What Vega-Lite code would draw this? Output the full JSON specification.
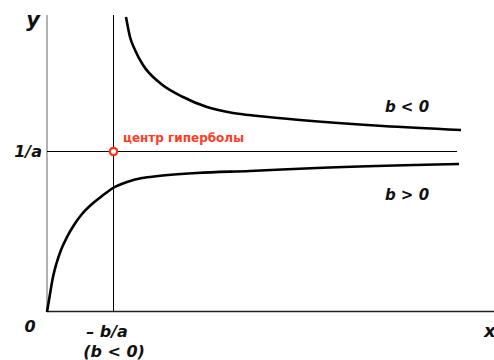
{
  "$schema": "https://vega.github.io/schema/vega-lite/v6.json",
  "width": 447,
  "height": 297,
  "autosize": "none",
  "padding": {"left": 47, "top": 15, "right": 0, "bottom": 48},
  "background": "white",
  "config": {"view": {"stroke": null}},
  "datasets": {
    "curves": [
      {"series": "b<0", "x": 79, "y": 295},
      {"series": "b<0", "x": 83, "y": 275},
      {"series": "b<0", "x": 88, "y": 262},
      {"series": "b<0", "x": 96, "y": 247},
      {"series": "b<0", "x": 113, "y": 229},
      {"series": "b<0", "x": 136, "y": 215},
      {"series": "b<0", "x": 160, "y": 205},
      {"series": "b<0", "x": 186, "y": 199},
      {"series": "b<0", "x": 211, "y": 196},
      {"series": "b<0", "x": 253, "y": 192},
      {"series": "b<0", "x": 336, "y": 186},
      {"series": "b<0", "x": 414, "y": 182},
      {"series": "b>0", "x": 0, "y": 0},
      {"series": "b>0", "x": 3, "y": 18},
      {"series": "b>0", "x": 6, "y": 35},
      {"series": "b>0", "x": 9, "y": 47},
      {"series": "b>0", "x": 14, "y": 62},
      {"series": "b>0", "x": 20, "y": 75},
      {"series": "b>0", "x": 27, "y": 87},
      {"series": "b>0", "x": 35, "y": 98},
      {"series": "b>0", "x": 45, "y": 108},
      {"series": "b>0", "x": 55, "y": 116},
      {"series": "b>0", "x": 66, "y": 124},
      {"series": "b>0", "x": 80, "y": 130},
      {"series": "b>0", "x": 95, "y": 134},
      {"series": "b>0", "x": 111, "y": 136},
      {"series": "b>0", "x": 150, "y": 139},
      {"series": "b>0", "x": 203, "y": 141},
      {"series": "b>0", "x": 270, "y": 144},
      {"series": "b>0", "x": 412, "y": 148}
    ]
  },
  "layer": [
    {
      "data": {"values": [{"x": 0, "y": 0, "y2": 297}]},
      "mark": {"type": "rule", "color": "#999999", "strokeWidth": 1.5},
      "encoding": {
        "x": {"field": "x", "type": "quantitative", "scale": {"domain": [0, 447], "nice": false, "zero": false}, "axis": null},
        "y": {"field": "y", "type": "quantitative", "scale": {"domain": [0, 297], "nice": false, "zero": false}, "axis": null},
        "y2": {"field": "y2"}
      }
    },
    {
      "data": {"values": [{"x": 0, "x2": 447, "y": 0.5}]},
      "mark": {"type": "rule", "color": "#222222", "strokeWidth": 1.5},
      "encoding": {
        "x": {"field": "x", "type": "quantitative"},
        "x2": {"field": "x2"},
        "y": {"field": "y", "type": "quantitative"}
      }
    },
    {
      "data": {"values": [{"x": 66.5, "y": 0, "y2": 297}]},
      "mark": {"type": "rule", "color": "#000000", "strokeWidth": 1},
      "encoding": {
        "x": {"field": "x", "type": "quantitative"},
        "y": {"field": "y", "type": "quantitative"},
        "y2": {"field": "y2"}
      }
    },
    {
      "data": {"values": [{"x": 0, "x2": 410, "y": 160.5}]},
      "mark": {"type": "rule", "color": "#000000", "strokeWidth": 1},
      "encoding": {
        "x": {"field": "x", "type": "quantitative"},
        "x2": {"field": "x2"},
        "y": {"field": "y", "type": "quantitative"}
      }
    },
    {
      "data": {"name": "curves"},
      "mark": {"type": "line", "color": "#000000", "strokeWidth": 2.6, "interpolate": "monotone"},
      "encoding": {
        "x": {"field": "x", "type": "quantitative"},
        "y": {"field": "y", "type": "quantitative"},
        "detail": {"field": "series"}
      }
    },
    {
      "data": {"values": [{"x": 66.5, "y": 160.5}]},
      "mark": {"type": "point", "shape": "circle", "size": 55, "filled": false, "fill": "white", "fillOpacity": 1, "stroke": "#ff3311", "strokeWidth": 2.2, "opacity": 1},
      "encoding": {
        "x": {"field": "x", "type": "quantitative"},
        "y": {"field": "y", "type": "quantitative"}
      }
    },
    {
      "data": {"values": [{"label": "центр гиперболы", "x": 76, "y": 170}]},
      "mark": {"type": "text", "align": "left", "baseline": "alphabetic", "font": "DejaVu Sans", "fontSize": 12, "fontWeight": "bold", "color": "#ff3b1f"},
      "encoding": {
        "x": {"field": "x", "type": "quantitative"},
        "y": {"field": "y", "type": "quantitative"},
        "text": {"field": "label"}
      }
    },
    {
      "data": {"values": [{"label": "y", "x": -14, "y": 285}]},
      "mark": {"type": "text", "align": "center", "baseline": "alphabetic", "font": "DejaVu Sans", "fontSize": 21, "fontWeight": "bold", "fontStyle": "italic", "color": "#111111"},
      "encoding": {
        "x": {"field": "x", "type": "quantitative"},
        "y": {"field": "y", "type": "quantitative"},
        "text": {"field": "label"}
      }
    },
    {
      "data": {"values": [{"label": "1/a", "x": -5, "y": 155}]},
      "mark": {"type": "text", "align": "right", "baseline": "alphabetic", "font": "DejaVu Sans", "fontSize": 16, "fontWeight": "bold", "fontStyle": "italic", "color": "#111111"},
      "encoding": {
        "x": {"field": "x", "type": "quantitative"},
        "y": {"field": "y", "type": "quantitative"},
        "text": {"field": "label"}
      }
    },
    {
      "data": {"values": [
        {"label": "0", "x": -17, "y": -20},
        {"label": "– b/a", "x": 60, "y": -25},
        {"label": "(b < 0)", "x": 67, "y": -45}
      ]},
      "mark": {"type": "text", "align": "center", "baseline": "alphabetic", "font": "DejaVu Sans", "fontSize": 16, "fontWeight": "bold", "fontStyle": "italic", "color": "#111111"},
      "encoding": {
        "x": {"field": "x", "type": "quantitative"},
        "y": {"field": "y", "type": "quantitative"},
        "text": {"field": "label"}
      }
    },
    {
      "data": {"values": [{"label": "x", "x": 437, "y": -25}]},
      "mark": {"type": "text", "align": "left", "baseline": "alphabetic", "font": "DejaVu Sans", "fontSize": 18, "fontWeight": "bold", "fontStyle": "italic", "color": "#111111"},
      "encoding": {
        "x": {"field": "x", "type": "quantitative"},
        "y": {"field": "y", "type": "quantitative"},
        "text": {"field": "label"}
      }
    },
    {
      "data": {"values": [
        {"label": "b < 0", "x": 360, "y": 200},
        {"label": "b > 0", "x": 360, "y": 112}
      ]},
      "mark": {"type": "text", "align": "center", "baseline": "alphabetic", "font": "DejaVu Sans", "fontSize": 15, "fontWeight": "bold", "fontStyle": "italic", "color": "#111111"},
      "encoding": {
        "x": {"field": "x", "type": "quantitative"},
        "y": {"field": "y", "type": "quantitative"},
        "text": {"field": "label"}
      }
    }
  ]
}
